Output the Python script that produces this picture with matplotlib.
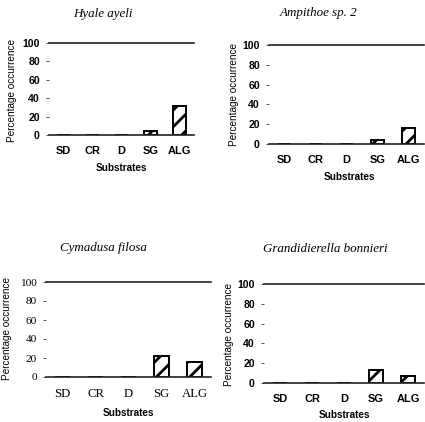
import matplotlib.pyplot as plt

categories = ['SD', 'CR', 'D', 'SG', 'ALG']
hyale = [0, 0, 0, 4, 31]
ampithoe = [0, 0, 0, 4, 16]
cymadusa = [0, 0, 0, 22, 16]
grandidierella = [0, 0, 0, 13, 7]
yticks = [0, 20, 40, 60, 80, 100]

W, H = 425, 422
plt.rcParams['hatch.linewidth'] = 2.0

fig = plt.figure(figsize=(W / 100, H / 100), dpi=100)


def px(x, y):
    return x / W, 1 - y / H


def panel(box, values, title, tpos, xlpos, ylpos, serif_ticks=False):
    x0, y0, x1, y1 = box
    ax = fig.add_axes([x0 / W, 1 - y1 / H, (x1 - x0) / W, (y1 - y0) / H])
    ax.bar(range(len(categories)), values, width=0.44, color='white',
           edgecolor='black', linewidth=1.4, hatch='//')
    ax.set_xlim(-0.5, 4.5)
    ax.set_ylim(0, 100)
    ax.set_xticks(range(len(categories)))
    ax.set_yticks(yticks)
    if serif_ticks:
        xf = dict(family='Liberation Serif', size=9.2)
        yf = dict(family='Liberation Serif', size=8.2)
    else:
        xf = dict(family='Liberation Sans', size=7.9, weight='bold')
        yf = dict(family='Liberation Sans', size=7.6, weight='bold')
    ax.set_xticklabels(categories, **xf)
    ax.set_yticklabels([str(v) for v in yticks], **yf)
    ax.tick_params(axis='x', length=0, pad=8)
    ax.tick_params(axis='y', length=2.5, width=0.7, pad=4, color='#555555')
    for s in ['left', 'right']:
        ax.spines[s].set_visible(False)
    for s in ['top', 'bottom']:
        ax.spines[s].set_linewidth(1.2)
        ax.spines[s].set_color('#222222')
    fig.text(*px(*tpos), title, family='Liberation Serif', style='italic',
             size=9.4, ha='center', va='center')
    fig.text(*px(*xlpos), 'Substrates', family='Liberation Sans',
             size=7.2, weight='bold', ha='center', va='center')
    fig.text(*px(*ylpos), 'Percentage occurrence', family='Liberation Sans',
             size=7.2, rotation=90, ha='center', va='center')
    return ax


panel((49, 43, 194, 135), hyale, 'Hyale ayeli', (103, 14), (121, 168), (12, 90))
panel((269, 45, 424, 144), ampithoe, 'Ampithoe sp. 2', (319, 13), (349, 177), (234, 94))
panel((46, 282, 211, 377), cymadusa, 'Cymadusa filosa', (103, 248), (128, 413), (7, 329),
      serif_ticks=True)
panel((264, 284, 424, 383), grandidierella, 'Grandidierella bonnieri', (325, 249), (344, 415),
      (229, 334))

fig.savefig('out.png', dpi=100)
